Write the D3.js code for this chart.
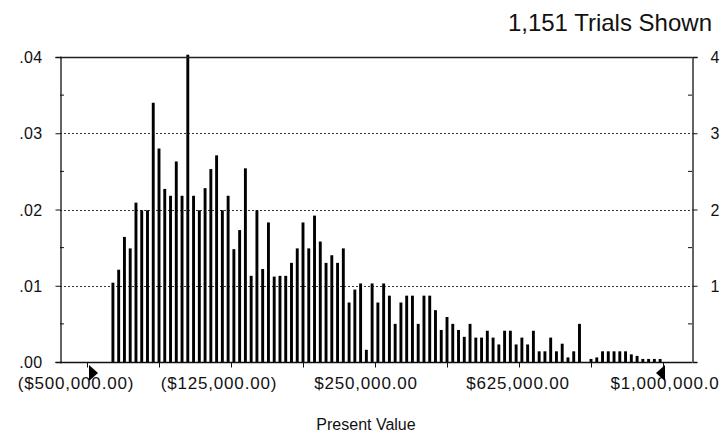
<!DOCTYPE html>
<html>
<head>
<meta charset="utf-8">
<script src="https://cdn.jsdelivr.net/npm/d3@7"></script>
<style>
  html, body { margin: 0; padding: 0; background: #fff; }
  svg { display: block; }
  text { font-family: "Liberation Sans", Arial, sans-serif; fill: #111; }
</style>
</head>
<body>
<svg id="chart" width="720" height="443"></svg>
<script>
// ---- data ----
const chartTitle = "1,151 Trials Shown";
const xAxisTitle = "Present Value";
const binStart = -440000;   // lower edge of first bin
const binWidth = 15000;
const probabilities = [
  0.0104, 0.0121, 0.0164, 0.0149, 0.0209, 0.0199, 0.0199, 0.0340, 0.0280, 0.0227,
  0.0218, 0.0263, 0.0218, 0.0403, 0.0218, 0.0199, 0.0228, 0.0253, 0.0271, 0.0199,
  0.0218, 0.0148, 0.0173, 0.0254, 0.0113, 0.0199, 0.0122, 0.0183, 0.0112, 0.0113,
  0.0113, 0.0130, 0.0149, 0.0183, 0.0149, 0.0192, 0.0158, 0.0130, 0.0140, 0.0130,
  0.0149, 0.0078, 0.0095, 0.0103, 0.0016, 0.0103, 0.0078, 0.0103, 0.0087, 0.0050,
  0.0078, 0.0087, 0.0087, 0.0050, 0.0087, 0.0087, 0.0068, 0.0042, 0.0059, 0.0050,
  0.0042, 0.0033, 0.0050, 0.0032, 0.0032, 0.0041, 0.0032, 0.0023, 0.0041, 0.0041,
  0.0023, 0.0032, 0.0023, 0.0041, 0.0014, 0.0014, 0.0032, 0.0014, 0.0024, 0.0006,
  0.0014, 0.0050, 0.0000, 0.0004, 0.0006, 0.0014, 0.0014, 0.0014, 0.0014, 0.0014,
  0.0010, 0.0008, 0.0004, 0.0004, 0.0004, 0.0004
];
const probTicks = [0, 0.01, 0.02, 0.03, 0.04];
const probTickLabels = [".00", ".01", ".02", ".03", ".04"];
const freqTicks = [1, 2, 3, 4];
const freqTickLabels = ["1", "2", "3", "4"];
const xTickValues = [-500000, -312500, -125000, 62500, 250000, 437500, 625000, 812500, 1000000];
const xLabelValues = [-500000, -125000, 250000, 625000, 1000000];
const xLabels = ["($500,000.00)", "($125,000.00)", "$250,000.00", "$625,000.00", "$1,000,000.0"];

// ---- layout ----
const L = 60, R = 692, T = 57, B = 362;
const labelShift = [-11, -12, -9, -1, 2];
const svg = d3.select("#chart");

const x = d3.scaleLinear().domain([-500000, 1000000]).range([87, 663]);
const y = d3.scaleLinear().domain([0, 0.04]).range([B, T]);
const y2 = d3.scaleLinear().domain([0, 4]).range([B, T]);

// gridlines
svg.append("g").selectAll("line")
  .data([0.01, 0.02, 0.03])
  .join("line")
  .attr("x1", L).attr("x2", R)
  .attr("y1", d => Math.round(y(d)) + 0.5).attr("y2", d => Math.round(y(d)) + 0.5)
  .attr("stroke", "#333").attr("stroke-width", 1).attr("stroke-dasharray", "2,2");

// bars
const barW = 2.9;
svg.append("g").selectAll("rect")
  .data(probabilities)
  .join("rect")
  .attr("x", (d, i) => x(binStart + (i + 0.5) * binWidth) - barW / 2)
  .attr("width", barW)
  .attr("y", d => y(d))
  .attr("height", d => B - y(d))
  .attr("fill", "#000");

// frame top
svg.append("line").attr("x1", L).attr("x2", R).attr("y1", T + 0.5).attr("y2", T + 0.5)
  .attr("stroke", "#222").attr("stroke-width", 1.4);

// left axis
const leftAxis = d3.axisLeft(y).tickValues(probTicks)
  .tickFormat((d, i) => probTickLabels[i]).tickSize(5).tickPadding(13);
const gl = svg.append("g").attr("transform", `translate(${L + 0.5},0)`).call(leftAxis);
gl.select(".domain").attr("stroke", "#111").attr("stroke-width", 1.3);
gl.selectAll(".tick line").attr("stroke", "#111");
gl.selectAll("text").attr("font-size", 16).attr("letter-spacing", 0.3).style("fill", "#111")
  .attr("dy", "0.35em");
svg.append("g").selectAll("line")
  .data([0.005, 0.015, 0.025, 0.035])
  .join("line")
  .attr("x1", L).attr("x2", L + 4)
  .attr("y1", d => y(d)).attr("y2", d => y(d))
  .attr("stroke", "#111");

// right axis
const rightAxis = d3.axisRight(y2).tickValues(freqTicks)
  .tickFormat((d, i) => freqTickLabels[i]).tickSize(5).tickPadding(13);
const gr = svg.append("g").attr("transform", `translate(${R + 0.5},0)`).call(rightAxis);
gr.select(".domain").attr("stroke", "#111").attr("stroke-width", 1.3);
gr.selectAll(".tick line").attr("stroke", "#111");
gr.selectAll("text").attr("font-size", 16).style("fill", "#111").attr("dy", "0.35em");
svg.append("g").selectAll("line")
  .data([0.5, 1.5, 2.5, 3.5])
  .join("line")
  .attr("x1", R).attr("x2", R - 4)
  .attr("y1", d => y2(d)).attr("y2", d => y2(d))
  .attr("stroke", "#111");

// bottom axis
const bottomAxis = d3.axisBottom(x).tickValues(xTickValues).tickFormat("").tickSize(5);
const gb = svg.append("g").attr("transform", `translate(0,${B + 0.5})`).call(bottomAxis);
gb.select(".domain").remove();
gb.selectAll(".tick line").attr("stroke", "#111");
svg.append("line").attr("x1", L).attr("x2", R).attr("y1", B + 0.5).attr("y2", B + 0.5)
  .attr("stroke", "#111").attr("stroke-width", 1.3);

// x labels
svg.append("g").selectAll("text")
  .data(xLabelValues)
  .join("text")
  .attr("x", (d, i) => x(d) + labelShift[i])
  .attr("y", 389)
  .attr("text-anchor", "middle")
  .attr("font-size", 17)
  .attr("letter-spacing", 0.8)
  .text((d, i) => xLabels[i]);

// axis title
svg.append("text").attr("x", 366).attr("y", 430).attr("text-anchor", "middle")
  .attr("font-size", 16).text(xAxisTitle);

// chart title
svg.append("text").attr("x", 712).attr("y", 31).attr("text-anchor", "end")
  .attr("font-size", 24).text(chartTitle);

// certainty grabbers
const gx0 = x(-500000), gx1 = x(1000000);
svg.append("path")
  .attr("d", `M${gx0 + 2},${B + 3} L${gx0 + 11},${B + 11} L${gx0 + 2},${B + 19} Z`)
  .attr("fill", "#000");
svg.append("path")
  .attr("d", `M${gx1 + 2},${B + 3} L${gx1 - 7},${B + 11} L${gx1 + 2},${B + 19} Z`)
  .attr("fill", "#000");
</script>
</body>
</html>
